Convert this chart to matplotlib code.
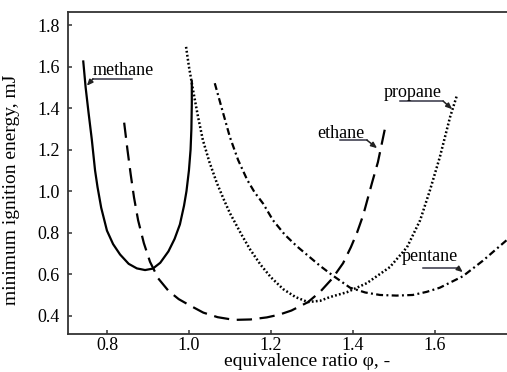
import matplotlib
matplotlib.use("Agg")
import matplotlib.pyplot as plt

plt.rcParams['font.family'] = ['Liberation Serif', 'DejaVu Serif']
plt.rcParams['lines.scale_dashes'] = False

# --- data (equivalence ratio, minimum ignition energy mJ) ---
methane_phi = [0.742, 0.748, 0.755, 0.763, 0.771, 0.777, 0.786, 0.80, 0.815, 0.832, 0.853,
               0.873, 0.893, 0.912, 0.93, 0.95, 0.965, 0.978, 0.988, 0.994, 1.0, 1.004,
               1.006, 1.007, 1.007]
methane_mie = [1.63, 1.50, 1.38, 1.25, 1.10, 1.02, 0.92, 0.81, 0.745, 0.695, 0.65,
               0.628, 0.62, 0.627, 0.655, 0.71, 0.77, 0.84, 0.93, 1.0, 1.1, 1.2,
               1.3, 1.42, 1.535]

ethane_phi = [0.842, 0.85, 0.858, 0.866, 0.876, 0.89, 0.905, 0.925, 0.95, 0.975, 1.0, 1.035,
              1.07, 1.11, 1.15, 1.19, 1.22, 1.25, 1.29, 1.32, 1.35, 1.376, 1.395, 1.41,
              1.425, 1.447, 1.461, 1.478]
ethane_mie = [1.33, 1.20, 1.08, 0.97, 0.86, 0.75, 0.66, 0.58, 0.52, 0.48, 0.452, 0.415,
              0.393, 0.38, 0.382, 0.392, 0.405, 0.425, 0.465, 0.515, 0.58, 0.653, 0.73, 0.80,
              0.884, 1.043, 1.14, 1.30]

propane_phi = [0.993, 1.0, 1.01, 1.022, 1.034, 1.05, 1.068, 1.085, 1.10, 1.129, 1.149, 1.175,
               1.20, 1.23, 1.26, 1.29, 1.32, 1.344, 1.385, 1.434, 1.49, 1.532, 1.564, 1.588,
               1.612, 1.637, 1.654]
propane_mie = [1.695, 1.60, 1.487, 1.36, 1.246, 1.14, 1.04, 0.96, 0.894, 0.788, 0.72, 0.645,
               0.585, 0.528, 0.49, 0.466, 0.472, 0.49, 0.513, 0.557, 0.634, 0.73, 0.86, 1.005,
               1.164, 1.357, 1.463]

pentane_phi = [1.063, 1.08, 1.10, 1.12, 1.142, 1.16, 1.181, 1.205, 1.234, 1.263, 1.29, 1.32,
               1.35, 1.393, 1.43, 1.466, 1.506, 1.546, 1.58, 1.612, 1.668, 1.717, 1.775]
pentane_mie = [1.52, 1.40, 1.26, 1.15, 1.055, 0.995, 0.94, 0.86, 0.79, 0.735, 0.69, 0.64,
               0.595, 0.535, 0.512, 0.50, 0.497, 0.50, 0.515, 0.535, 0.59, 0.665, 0.764]

x_ticks = [0.8, 1.0, 1.2, 1.4, 1.6]
y_ticks = [0.4, 0.6, 0.8, 1.0, 1.2, 1.4, 1.6, 1.8]

W, H = 507, 372
fig = plt.figure(figsize=(W / 100, H / 100), dpi=100)
L, R, B, T = 68, 546, 334, 12
ax = fig.add_axes([L / W, (H - B) / H, (R - L) / W, (B - T) / H])

ax.plot(methane_phi, methane_mie, color='black', lw=1.6, solid_capstyle='butt')
ax.plot(ethane_phi, ethane_mie, color='black', lw=1.6, linestyle=(0, (11, 5.5)))
ax.plot(propane_phi, propane_mie, color='black', lw=1.8, linestyle=(0, (1.3, 1.6)))
ax.plot(pentane_phi, pentane_mie, color='black', lw=1.6, linestyle=(0, (5, 2.4, 1.4, 2.4)))

ax.set_xlim(0.705, 1.871)
ax.set_ylim(0.312, 1.863)
ax.set_xticks(x_ticks)
ax.set_xticklabels([f"{v:.1f}" for v in x_ticks])
ax.set_yticks(y_ticks)
ax.set_yticklabels([f"{v:.1f}" for v in y_ticks])
ax.tick_params(direction='in', length=3, width=1.1, labelsize=13, pad=6, color='#333333')
ax.tick_params(axis='x', pad=2.5)
for s in ['left', 'bottom', 'top']:
    ax.spines[s].set_linewidth(1.3)
    ax.spines[s].set_color('#333333')
ax.spines['right'].set_visible(False)

# labels with underline + arrow
labels = [
    ("methane", 0.764, 1.58, (0.766, 0.862, 1.541), (0.751, 1.508)),
    ("ethane", 1.313, 1.277, (1.368, 1.434, 1.246), (1.459, 1.207)),
    ("propane", 1.476, 1.474, (1.515, 1.62, 1.434), (1.642, 1.395)),
    ("pentane", 1.52, 0.684, (1.571, 1.656, 0.629), (1.668, 0.61)),
]
for name, tx, ty, (u0, u1, uy), tip in labels:
    ax.text(tx, ty, name, fontsize=13, ha='left', va='center')
    ax.plot([u0, u1], [uy, uy], color='#333344', lw=1.1)
    start = (u0, uy) if name == "methane" else (u1, uy)
    ax.annotate('', xy=tip, xytext=start,
                arrowprops=dict(arrowstyle='-|>,head_length=0.35,head_width=0.15',
                                color='#222222', lw=1.1, shrinkA=0, shrinkB=0))

fig.text(307 / W, 1.5 / H, "equivalence ratio φ, -", fontsize=14, ha='center', va='bottom')
fig.text(12 / W, (H - 190) / H, "minimum ignition energy, mJ", fontsize=14,
         ha='center', va='center', rotation=90)

fig.savefig("out.png", dpi=100)
